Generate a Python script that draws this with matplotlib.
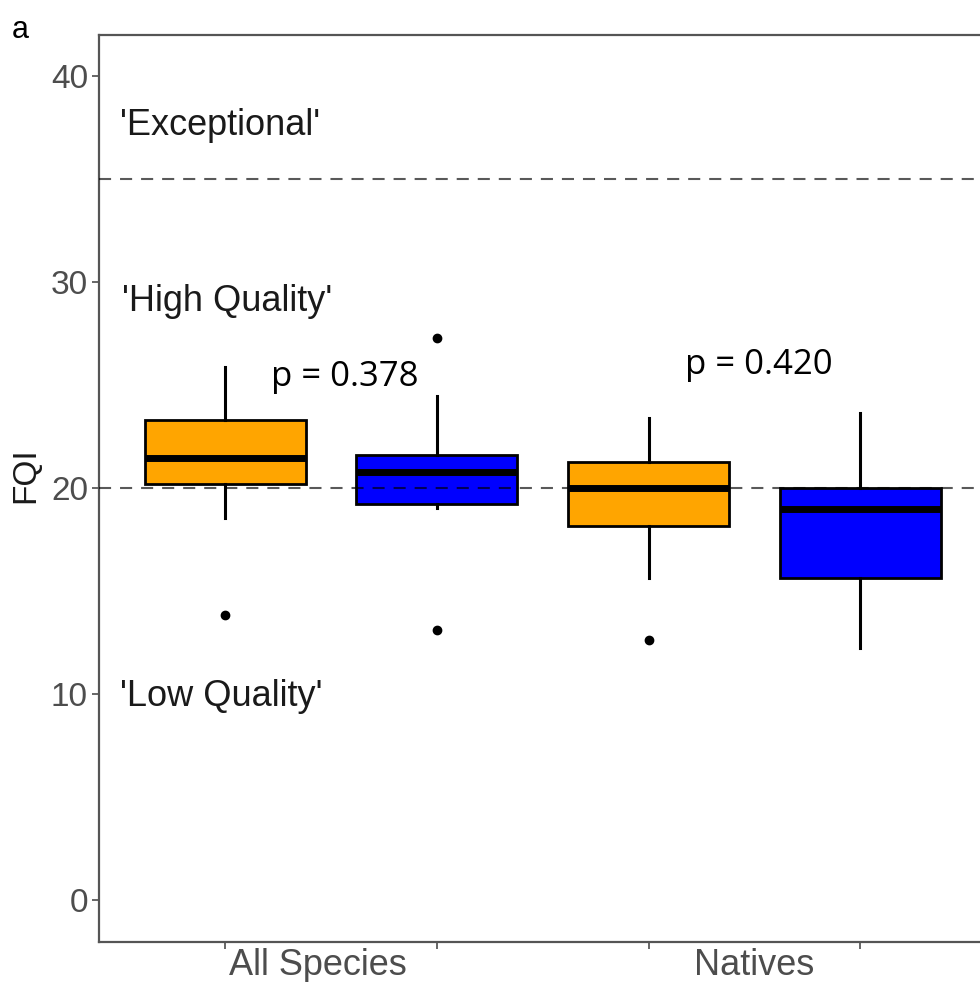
import numpy as np
import matplotlib.pyplot as plt

plt.rcParams['font.family'] = ['Liberation Sans', 'DejaVu Sans']

# box summaries: All Species (quota, other), Natives (quota, other)
positions = [0.75, 1.25, 1.75, 2.25]
box_colors = ['#FFA500', '#0000FF', '#FFA500', '#0000FF']
whislo = [18.55, 19.04, 15.67, 12.24]
q1 = [20.2, 19.23, 18.15, 15.64]
med = [21.47, 20.77, 20.01, 18.99]
q3 = [23.33, 21.63, 21.3, 20.01]
whishi = [25.91, 24.46, 23.41, 23.65]
fliers = [[13.86], [27.29, 13.13], [12.65], []]

groups = ['All Species', 'Natives']
group_pos = [0.97, 2.0]
p_values = ['p = 0.378', 'p = 0.420']
p_pos = [(1.033, 25.4), (2.011, 26.0)]

thresholds = [20, 35]
zones = ["'Exceptional'", "'High Quality'", "'Low Quality'"]
zone_y = [37.6, 29.05, 9.88]
zone_x = [0.502, 0.507, 0.502]

fig = plt.figure(figsize=(9.8, 9.82), dpi=100)
ax = fig.add_axes([99 / 980, 40.3 / 982, 881 / 980, 906.7 / 982])

stats = []
for i in range(len(positions)):
    stats.append(dict(whislo=whislo[i], q1=q1[i], med=med[i], q3=q3[i],
                      whishi=whishi[i], fliers=fliers[i]))

bp = ax.bxp(stats, positions=positions, widths=0.38, patch_artist=True,
            showcaps=False,
            boxprops=dict(edgecolor='black', linewidth=2.0),
            medianprops=dict(color='black', linewidth=5.0, solid_capstyle='butt'),
            whiskerprops=dict(color='black', linewidth=2.2),
            flierprops=dict(marker='o', markerfacecolor='black',
                            markeredgecolor='black', markersize=6))
for patch, c in zip(bp['boxes'], box_colors):
    patch.set_facecolor(c)

# quality thresholds
for t in thresholds:
    ax.axhline(t, color='black', alpha=0.65, linewidth=1.5,
               linestyle=(0, (5.8, 4.3)), zorder=5)

for txt, x, y in zip(zones, zone_x, zone_y):
    ax.text(x, y, txt, fontsize=26, color='#1a1a1a', va='center', ha='left')

for txt, (x, y) in zip(p_values, p_pos):
    ax.text(x, y, txt, fontsize=25, family=['Open Sans', 'DejaVu Sans'],
            color='black', va='center', ha='center')

ax.set_xlim(0.452, 2.533)
ax.set_ylim(-2, 42)

ax.set_yticks([0, 10, 20, 30, 40])
ax.set_xticks(positions)
ax.set_xticklabels([])
ax.tick_params(axis='both', colors='#4d4d4d', labelcolor='#4d4d4d',
               labelsize=24, length=5, width=1.2, pad=3)
for g, x in zip(groups, group_pos):
    ax.text(x, -2.3, g, fontsize=26, color='#4d4d4d', ha='center', va='top')

ax.set_ylabel('FQI', fontsize=24, color='#1a1a1a')
ax.yaxis.set_label_coords(-0.066, 0.515)

for side in ['top', 'left', 'bottom']:
    ax.spines[side].set_color('#555555')
    ax.spines[side].set_linewidth(1.6)
ax.spines['right'].set_visible(False)

fig.text(0.012, 0.985, 'a', fontsize=22, color='black', ha='left', va='top')

fig.savefig('out.png', dpi=100)
